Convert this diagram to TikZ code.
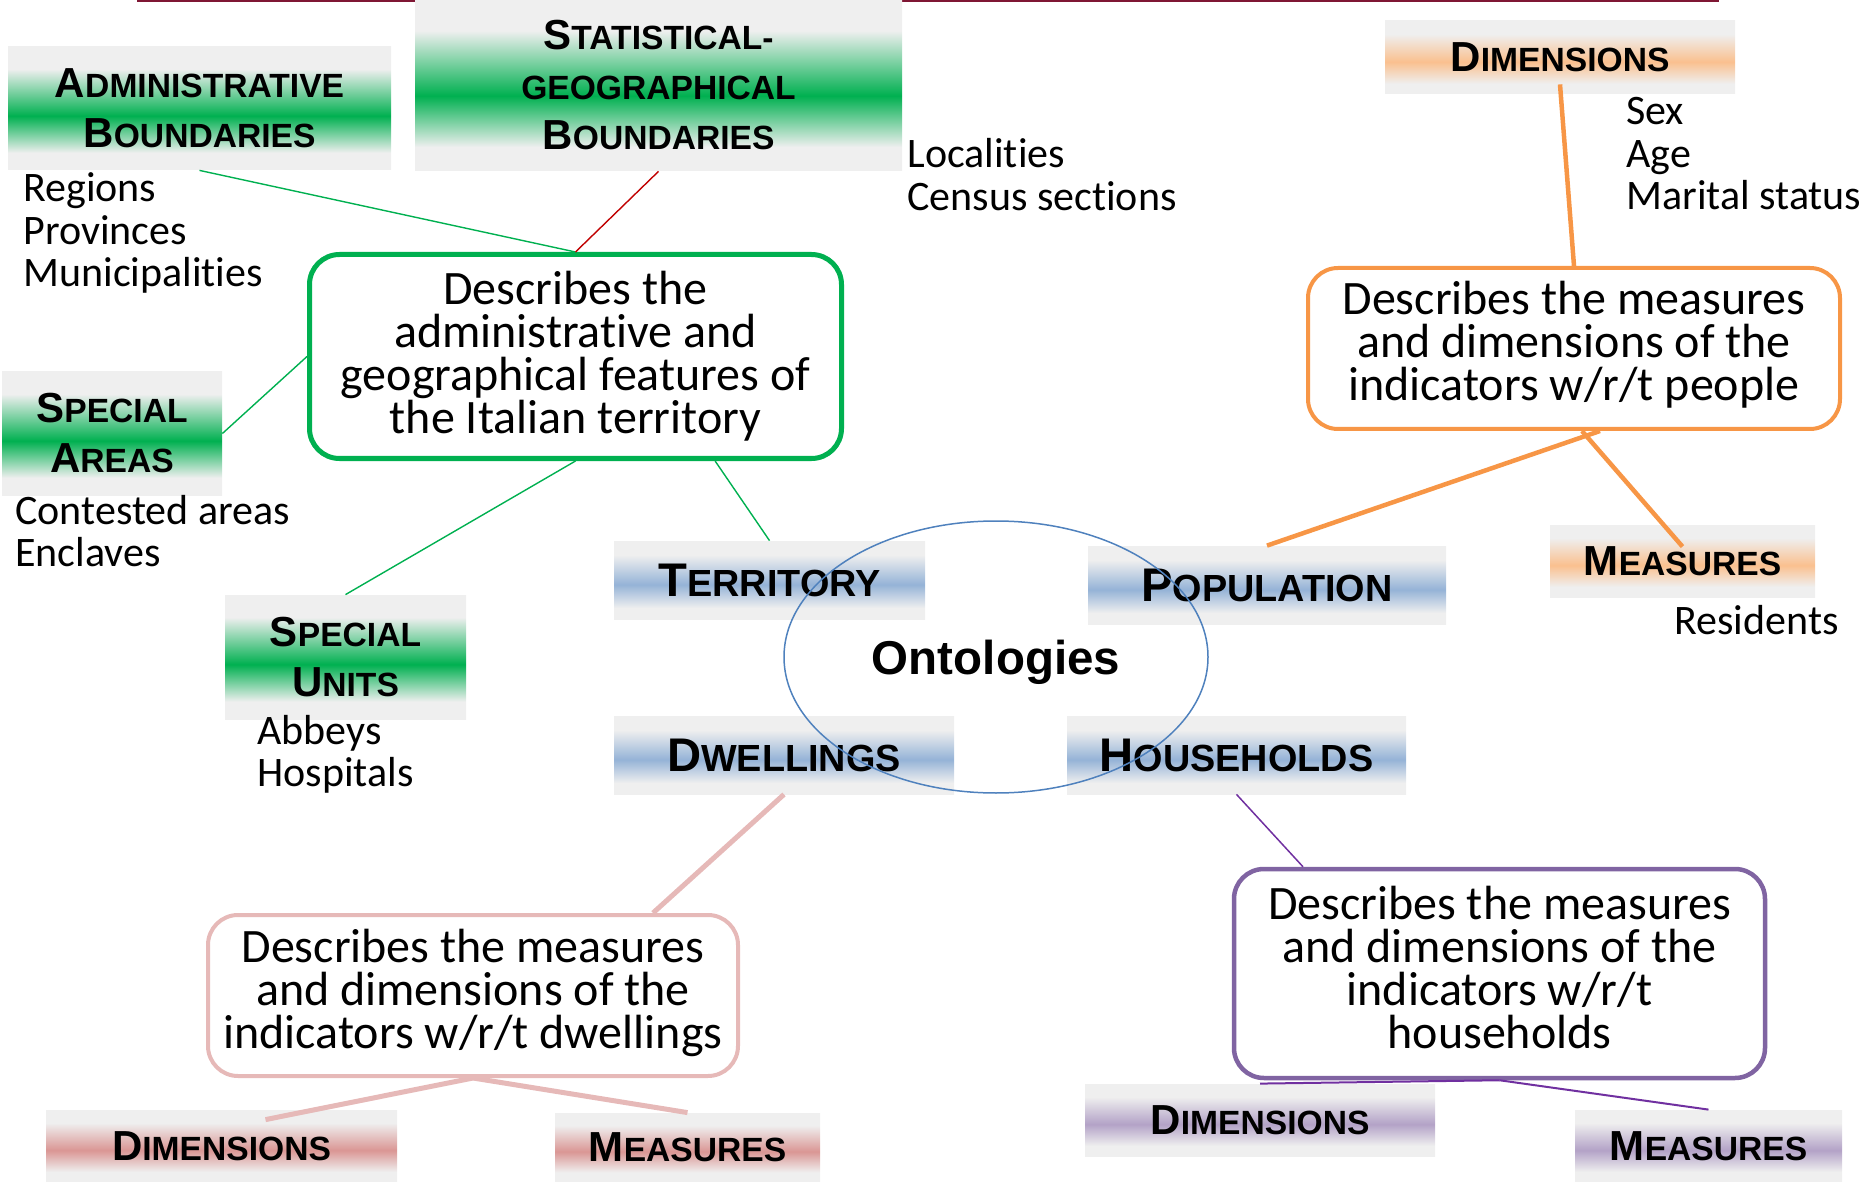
\documentclass[tikz,border=0pt]{standalone}
\usepackage{fontspec}
\setmainfont{Carlito}[Ligatures=CommonOff]
\newfontfamily\titlefont{Liberation Sans}
\usetikzlibrary{calc,shapes.geometric}
\setlength{\lineskiplimit}{-100pt}
\newcommand\PX{*0.5pt}
\newcommand\scA[2]{{\fontsize{21pt}{25pt}\selectfont #1}{\fontsize{16.8pt}{25pt}\selectfont #2}}
\newcommand\scB[2]{{\fontsize{23.6pt}{25pt}\selectfont #1}{\fontsize{18.9pt}{25pt}\selectfont #2}}
\newcommand\lowdepth[1]{\rule[-#1]{0pt}{#1}}

\definecolor{bgrey}{HTML}{EFEFEF}
\definecolor{cgreen}{HTML}{00B050}
\definecolor{cblue}{HTML}{95B3D7}
\definecolor{corange}{HTML}{F79646}
\definecolor{corangeband}{HTML}{FAC08F}
\definecolor{cpink}{HTML}{E6B9B8}
\definecolor{cpinkband}{HTML}{DA9694}
\definecolor{cpurple}{HTML}{8064A2}
\definecolor{cpurpleband}{HTML}{B3A2C7}
\definecolor{cpurpleline}{HTML}{7030A0}
\definecolor{cred}{HTML}{C00000}
\definecolor{cdarkred}{HTML}{7F1734}
\definecolor{cellipse}{HTML}{4F81BD}

\pgfdeclareverticalshading{bandgreen}{100bp}{color(0bp)=(bgrey); color(32bp)=(bgrey); color(47bp)=(cgreen); color(66bp)=(bgrey); color(100bp)=(bgrey)}
\pgfdeclareverticalshading{bandblue}{100bp}{color(0bp)=(bgrey); color(32bp)=(bgrey); color(47bp)=(cblue); color(66bp)=(bgrey); color(100bp)=(bgrey)}
\pgfdeclareverticalshading{bandorange}{100bp}{color(0bp)=(bgrey); color(32bp)=(bgrey); color(47bp)=(corangeband); color(66bp)=(bgrey); color(100bp)=(bgrey)}
\pgfdeclareverticalshading{bandpink}{100bp}{color(0bp)=(bgrey); color(32bp)=(bgrey); color(47bp)=(cpinkband); color(66bp)=(bgrey); color(100bp)=(bgrey)}
\pgfdeclareverticalshading{bandpurple}{100bp}{color(0bp)=(bgrey); color(32bp)=(bgrey); color(47bp)=(cpurpleband); color(66bp)=(bgrey); color(100bp)=(bgrey)}

\tikzset{
  ttl/.style={rectangle, inner sep=0pt, align=center, text=black,
    font=\titlefont\bfseries\fontsize{21pt}{25pt}\selectfont},
  gttl/.style={ttl, shade, shading=bandgreen},
  bttl/.style={ttl, shade, shading=bandblue},
  ottl/.style={ttl, shade, shading=bandorange},
  pttl/.style={ttl, shade, shading=bandpink},
  uttl/.style={ttl, shade, shading=bandpurple},
  rbox/.style={rectangle, draw, fill=white, rounded corners=15pt, inner sep=0pt,
    align=center, font=\fontsize{24pt}{21.5pt}\selectfont},
  lbl/.style={anchor=base west, inner sep=0pt, font=\fontsize{21pt}{21.25pt}\selectfont},
  gline/.style={draw=cgreen, line width=0.7pt},
  rline/.style={draw=cred, line width=0.7pt},
  oline/.style={draw=corange, line width=2.25pt},
  pline/.style={draw=cpink, line width=2.5pt},
  uthin/.style={draw=cpurpleline, line width=0.75pt},
  uline/.style={draw=cpurpleline, line width=1pt},
}

\begin{document}
\begin{tikzpicture}[x=0.5pt, y=-0.5pt]
\useasboundingbox (0,0) rectangle (1865,1182);

% top rule
\draw[cdarkred, line width=1.5pt] (137,1) -- (1719,1);

% title boxes
\node[gttl, minimum width=383\PX, minimum height=123\PX] (admin) at (199.5,108.5)
  {\scA{A}{DMINISTRATIVE}\\\scA{B}{OUNDARIES}};
\node[gttl, minimum width=487\PX, minimum height=171\PX] (statgeo) at (658.5,85.5)
  {\scA{S}{TATISTICAL-}\\\scA{}{GEOGRAPHICAL}\\\scA{B}{OUNDARIES}};
\node[gttl, minimum width=220\PX, minimum height=123\PX] (specareas) at (112,433.5)
  {\scA{S}{PECIAL}\\\scA{A}{REAS}};
\node[gttl, minimum width=241\PX, minimum height=124\PX] (specunits) at (345.5,657)
  {\scA{S}{PECIAL}\\\scA{U}{NITS}};

\node[bttl, minimum width=311\PX, minimum height=78\PX] (territory) at (769.5,580) {\scB{T}{ERRITORY}};
\node[bttl, minimum width=358\PX, minimum height=78\PX] (population) at (1267,585) {\scB{P}{OPULATION}};
\node[bttl, minimum width=340\PX, minimum height=78\PX] (dwellings) at (784,755) {\scB{D}{WELLINGS}};
\node[bttl, minimum width=339\PX, minimum height=78\PX] (households) at (1236.5,755) {\scB{H}{OUSEHOLDS}};

\node[ottl, minimum width=350\PX, minimum height=73\PX] (odim) at (1560,57.5) {\scA{D}{IMENSIONS}};
\node[ottl, minimum width=265\PX, minimum height=72\PX] (omeas) at (1682.5,561) {\scA{M}{EASURES}};
\node[pttl, minimum width=351\PX, minimum height=72\PX] (pdim) at (221.5,1146) {\scA{D}{IMENSIONS}};
\node[pttl, minimum width=265\PX, minimum height=69\PX] (pmeas) at (687.5,1147.5) {\scA{M}{EASURES}};
\node[uttl, minimum width=350\PX, minimum height=72\PX] (udim) at (1260,1120) {\scA{D}{IMENSIONS}};
\node[uttl, minimum width=267\PX, minimum height=72\PX] (umeas) at (1708.5,1146) {\scA{M}{EASURES}};

% description boxes
\node[rbox, draw=cgreen, line width=2.5pt, minimum width=532\PX, minimum height=204\PX] (gbox) at (575.5,356.5)
  {Describes the\\administrative and\\geographical features of\\the Italian territory};
\node[rbox, draw=corange, line width=2pt, minimum width=532\PX, minimum height=161\PX] (obox) at (1574,348.5)
  {Describes the measures\\and dimensions of the\\indicators w/r/t people\lowdepth{7.5pt}};
\node[rbox, draw=cpink, line width=2pt, minimum width=530\PX, minimum height=161\PX] (pbox) at (473,995.5)
  {Describes the measures\\and dimensions of the\\indicators w/r/t dwellings\lowdepth{6.5pt}};
\node[rbox, draw=cpurple, line width=2.25pt, minimum width=531\PX, minimum height=209\PX] (ubox) at (1499.5,973.5)
  {Describes the measures\\and dimensions of the\\indicators w/r/t\\households\lowdepth{6pt}};

% central ellipse
\node[ellipse, draw=cellipse, line width=0.75pt, minimum width=424\PX, minimum height=272\PX,
  text depth=0pt, font=\titlefont\bfseries\fontsize{23.75pt}{25pt}\selectfont] (onto) at (996,657) {Ontologies};

% plain labels
\node[lbl] (reg1) at (23,202) {Regions};
\node[lbl] (reg2) at (23,244.5) {Provinces};
\node[lbl] (reg3) at (23,287) {Municipalities};
\node[lbl] (loc1) at (907,168) {Localities};
\node[lbl] (loc2) at (907,210.5) {Census sections};
\node[lbl] (dim1) at (1626,125) {Sex};
\node[lbl] (dim2) at (1626,167.5) {Age};
\node[lbl] (dim3) at (1626,210) {Marital status};
\node[lbl] (res1) at (1674,634) {Residents};
\node[lbl] (are1) at (15,524) {Contested areas};
\node[lbl] (are2) at (15,566.5) {Enclaves};
\node[lbl] (uni1) at (257,744) {Abbeys};
\node[lbl] (uni2) at (257,786.5) {Hospitals};

% connectors
\draw[gline] (admin.south) -- (gbox.north);
\draw[rline] (statgeo.south) -- (gbox.north);
\draw[gline] (specareas.east) -- (gbox.west);
\draw[gline] (gbox.south) -- (specunits.north);
\draw[gline] ($(gbox.south west)!0.76!(gbox.south east)$) -- (territory.north);
\draw[oline] ($(odim.south)+(0,-10)$) -- (obox.north);
\draw[oline] ($(obox.south)+(26,0)$) -- (population.north);
\draw[oline] ($(obox.south)+(8,0)$) -- ($(omeas.north)+(0,22)$);
\draw[pline] (dwellings.south) -- ($(pbox.north west)!0.837!(pbox.north east)$);
\draw[pline] (pbox.south) -- ($(pdim.north)+(44,10)$);
\draw[pline] (pbox.south) -- (pmeas.north);
\draw[uthin] (households.south) -- ($(ubox.north west)!0.133!(ubox.north east)$);
\draw[uline] (ubox.south) -- (udim.north);
\draw[uline] (ubox.south) -- (umeas.north);
\end{tikzpicture}
\end{document}
